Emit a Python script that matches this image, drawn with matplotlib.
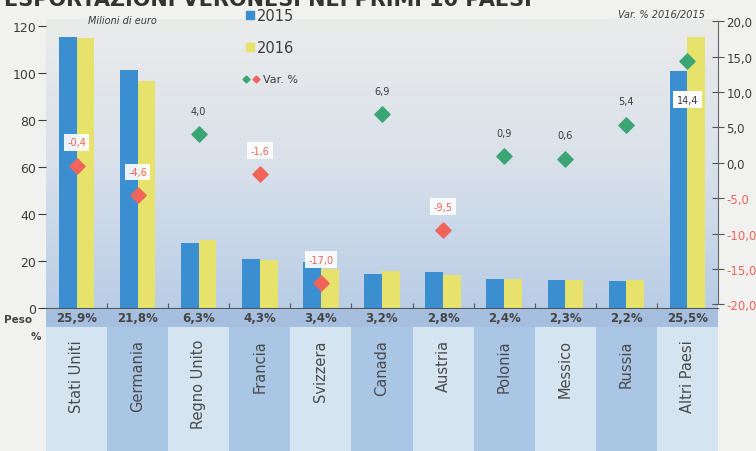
import matplotlib.pyplot as plt
import numpy as np
from matplotlib.colors import LinearSegmentedColormap

paesi = ['Stati Uniti', 'Germania', 'Regno Unito', 'Francia', 'Svizzera', 'Canada',
         'Austria', 'Polonia', 'Messico', 'Russia', 'Altri Paesi']
val_2015 = [115.3, 101.3, 27.7, 20.9, 19.7, 14.6, 15.4, 12.3, 11.9, 11.3, 101.0]
val_2016 = [114.8, 96.6, 28.8, 20.6, 16.4, 15.6, 13.9, 12.4, 12.0, 11.9, 115.5]
var_pct = [-0.4, -4.6, 4.0, -1.6, -17.0, 6.9, -9.5, 0.9, 0.6, 5.4, 14.4]
peso = ['25,9%', '21,8%', '6,3%', '4,3%', '3,4%', '3,2%', '2,8%', '2,4%', '2,3%', '2,2%', '25,5%']
left_ticks = [0, 20, 40, 60, 80, 100, 120]
right_ticks = [-20, -15, -10, -5, 0, 5, 10, 15, 20]

BLUE = '#3b8fd1'
YELLOW = '#e6e26c'
GREEN = '#3aa676'
RED = '#f0645c'
TXT = '#3c3c3c'


def fmt(v):
    return f'{v:.1f}'.replace('.', ',')


def main():
    fig = plt.figure(figsize=(7.56, 4.52), dpi=100)
    fig.patch.set_facecolor('#f1f1ef')

    W, H = 756, 452
    x0, x1 = 46, 718
    ax = fig.add_axes([x0 / W, (H - 309) / H, (x1 - x0) / W, (309 - 20) / H])
    x = np.arange(len(paesi))

    # background gradient
    grad = np.linspace(0, 1, 256).reshape(-1, 1)
    cmap = LinearSegmentedColormap.from_list('bg', ['#b9cde6', '#d9e1eb', '#ebebea'])
    ax.imshow(grad, aspect='auto', cmap=cmap, extent=[-0.5, 10.5, 0, 123],
              origin='lower', zorder=0)

    w = 0.29
    ax.bar(x - w / 2, val_2015, width=w, color=BLUE, zorder=2, label='2015')
    ax.bar(x + w / 2, val_2016, width=w, color=YELLOW, zorder=2, label='2016')
    ax.set_xlim(-0.5, 10.5)
    ax.set_ylim(0, 123)
    ax.set_yticks(left_ticks)
    ax.set_yticklabels([str(t) for t in left_ticks], fontsize=9, color=TXT)
    ax.tick_params(axis='y', length=6, color=TXT, pad=1)
    ax.set_xticks(np.arange(0.5, 10, 1))
    ax.set_xticklabels([])
    ax.tick_params(axis='x', direction='inout', length=7, color='#555555')
    for s in ['top', 'right', 'left']:
        ax.spines[s].set_visible(False)
    ax.spines['bottom'].set_color('#555555')
    ax.text(0.18, 122.5, 'Milioni di euro', fontsize=7, color=TXT, va='center',
            fontstyle='italic', clip_on=False)

    # Var % axis
    ax2 = ax.twinx()
    ax2.set_ylim(-20.5, 20.3)
    ax2.set_yticks(right_ticks)
    ax2.set_yticklabels([fmt(t) for t in right_ticks], fontsize=8.5)
    for lab, t in zip(ax2.get_yticklabels(), right_ticks):
        lab.set_color(RED if t < 0 else TXT)
    ax2.tick_params(axis='y', direction='inout', length=8, color='#555555', pad=2)
    for s in ['top', 'left', 'bottom']:
        ax2.spines[s].set_visible(False)
    ax2.spines['right'].set_color('#666666')
    ax2.spines['right'].set_bounds(-20, 20)
    ax2.text(10.28, 21.0, 'Var. % 2016/2015', fontsize=7, color=TXT, ha='right',
             va='center', fontstyle='italic', clip_on=False)

    for i, v in enumerate(var_pct):
        c = GREEN if v >= 0 else RED
        ax2.scatter(i, v, marker='D', s=60, color=c, zorder=4)
        if i == len(var_pct) - 1:
            ax2.text(i, v - 5.5, fmt(v), fontsize=7, color=TXT, ha='center', va='center',
                     zorder=5, bbox=dict(boxstyle='square,pad=0.35', fc='white', ec='none'))
        elif v < 0:
            ax2.text(i, v + 3.3, fmt(v), fontsize=7, color=RED, ha='center', va='center',
                     zorder=5, bbox=dict(boxstyle='square,pad=0.35', fc='white', ec='none', alpha=0.9))
        else:
            ax2.text(i, v + 3.3, fmt(v), fontsize=7, color=TXT, ha='center', va='center',
                     zorder=5)

    # legend
    ax.scatter([2.84], [124.7], marker='s', s=30, color=BLUE, zorder=5, clip_on=False)
    ax.text(2.96, 124.7, '2015', fontsize=10.5, color=TXT, va='center', clip_on=False)
    ax.scatter([2.84], [111], marker='s', s=30, color=YELLOW, zorder=5)
    ax.text(2.96, 111, '2016', fontsize=10.5, color=TXT, va='center')
    ax.scatter([2.77], [97.4], marker='D', s=12, color=GREEN, zorder=5)
    ax.scatter([2.93], [97.4], marker='D', s=12, color=RED, zorder=5)
    ax.text(3.06, 97.4, 'Var. %', fontsize=8, color=TXT, va='center')

    # peso band
    axp = fig.add_axes([x0 / W, (H - 328) / H, (x1 - x0) / W, 18 / H])
    axp.set_xlim(-0.5, 10.5)
    axp.set_ylim(0, 1)
    axp.axis('off')
    axp.add_patch(plt.Rectangle((-0.5, 0), 11, 1, color='#a7bfde'))
    for i, p in enumerate(peso):
        axp.text(i, 0.5, p, ha='center', va='center', fontsize=8.5,
                 fontweight='bold', color='#444444')
    fig.text(4 / W, 1 - 320 / H, 'Peso', fontsize=7.5, fontweight='bold', color='#444444',
             va='center')
    fig.text(31 / W, 1 - 337 / H, '%', fontsize=7.5, fontweight='bold', color='#444444',
             va='center')

    # country columns
    axc = fig.add_axes([x0 / W, 0, (x1 - x0) / W, (H - 328) / H])
    axc.set_xlim(-0.5, 10.5)
    axc.set_ylim(0, 1)
    axc.axis('off')
    for i, name in enumerate(paesi):
        col = '#d4e5f1' if i % 2 == 0 else '#a9c6e4'
        axc.bar(i, 1, width=1, bottom=0, color=col)
        axc.text(i, (H - 340) / (H - 328), name, rotation=90, ha='center', va='top',
                 fontsize=10.5, color='#4a4a4a')

    fig.text(0.005, 1.0, 'ESPORTAZIONI VERONESI NEI PRIMI 10 PAESI', fontsize=15,
             fontweight='bold', color='#333333', va='center')

    plt.savefig('out.png', dpi=100, facecolor=fig.get_facecolor())


if __name__ == "__main__":
    main()
